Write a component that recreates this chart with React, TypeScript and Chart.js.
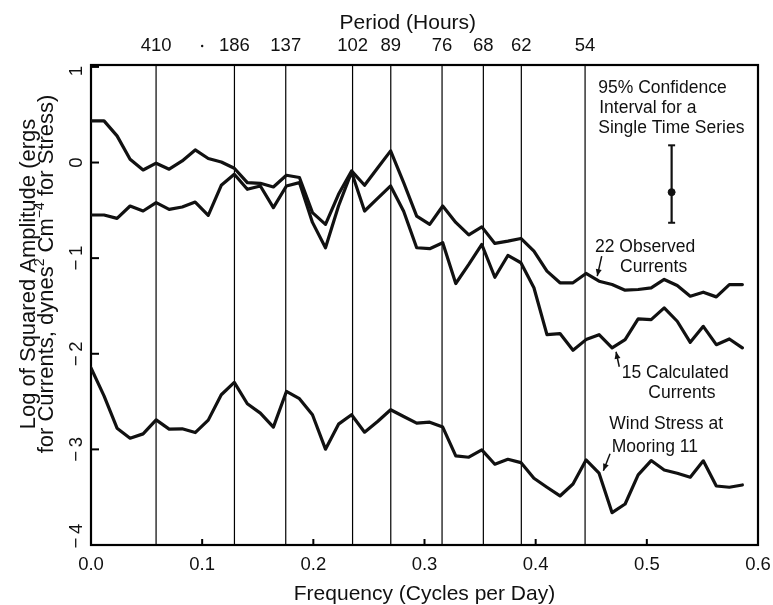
import React, { useEffect, useRef } from "react";
import { Chart, registerables } from "chart.js";

Chart.register(...registerables);

// Spectral bin spacing (cycles per day)
const FREQ_STEP = 3 / 256;

// Log of squared amplitude, one value per frequency bin
const observedCurrents = [
  0.436, 0.436, 0.279, 0.035, -0.078, -0.007, -0.07, 0.017, 0.132, 0.042,
  0.006, -0.06, -0.21, -0.217, -0.256, -0.133, -0.157, -0.524, -0.647, -0.332,
  -0.088, -0.238, -0.057, 0.122, -0.21, -0.56, -0.647, -0.455, -0.626, -0.757,
  -0.673, -0.846, -0.822, -0.794, -0.927, -1.136, -1.258, -1.258, -1.16, -1.241,
  -1.276, -1.335, -1.328, -1.31, -1.223, -1.286, -1.398, -1.356, -1.405, -1.276,
  -1.276,
];
const calculatedCurrents = [
  -0.549, -0.549, -0.584, -0.455, -0.507, -0.419, -0.49, -0.465, -0.413, -0.552,
  -0.238, -0.123, -0.28, -0.245, -0.472, -0.245, -0.21, -0.626, -0.891, -0.455,
  -0.1, -0.507, -0.374, -0.245, -0.51, -0.891, -0.901, -0.839, -1.265, -1.066,
  -0.857, -1.2, -0.972, -1.048, -1.31, -1.8, -1.789, -1.964, -1.852, -1.8,
  -1.939, -1.852, -1.635, -1.643, -1.52, -1.66, -1.88, -1.713, -1.905, -1.845,
  -1.939,
];
const windStress = [
  -2.149, -2.44, -2.778, -2.883, -2.838, -2.691, -2.788, -2.785, -2.824, -2.694,
  -2.429, -2.3, -2.523, -2.621, -2.767, -2.394, -2.47, -2.638, -2.998, -2.736,
  -2.638, -2.82, -2.709, -2.586, -2.656, -2.725, -2.715, -2.767, -3.068, -3.082,
  -3.005, -3.155, -3.103, -3.138, -3.302, -3.396, -3.487, -3.362, -3.11, -3.249,
  -3.662, -3.571, -3.267, -3.117, -3.215, -3.249, -3.291, -3.12, -3.383, -3.396,
  -3.372,
];

// Period marks (hours) on the top axis
const periodHours = [410, 186, 137, 102, 89, 76, 68, 62, 54];

const xTicks = [0, 0.1, 0.2, 0.3, 0.4, 0.5, 0.6];
const xTickLabels = ["0.0", "0.1", "0.2", "0.3", "0.4", "0.5", "0.6"];
const yTicks = [1, 0, -1, -2, -3, -4];
const yTickLabels = ["1", "0", "\u2212\u20091", "\u2212\u20092", "\u2212\u20093", "\u2212\u20094"];

// 95% confidence interval marker
const ciFreq = 0.5223;
const ciUpper = 0.18;
const ciMid = -0.31;
const ciLower = -0.63;

const FONT = "'Liberation Sans', Arial, Helvetica, sans-serif";

function drawArrow(ctx: CanvasRenderingContext2D, x1: number, y1: number, x2: number, y2: number) {
  ctx.save();
  ctx.lineWidth = 1.5;
  ctx.beginPath();
  ctx.moveTo(x1, y1);
  ctx.lineTo(x2, y2);
  ctx.stroke();
  const ang = Math.atan2(y2 - y1, x2 - x1);
  const L = 7;
  const W = 3;
  ctx.beginPath();
  ctx.moveTo(x2, y2);
  ctx.lineTo(x2 - L * Math.cos(ang) + W * Math.sin(ang), y2 - L * Math.sin(ang) - W * Math.cos(ang));
  ctx.lineTo(x2 - L * Math.cos(ang) - W * Math.sin(ang), y2 - L * Math.sin(ang) + W * Math.cos(ang));
  ctx.closePath();
  ctx.fill();
  ctx.restore();
}

type Part = { t: string; sup?: boolean };

function drawRich(ctx: CanvasRenderingContext2D, parts: Part[], cx: number, base: number, size: number) {
  const main = `${size}px ${FONT}`;
  const small = `${Math.round(size * 0.62)}px ${FONT}`;
  let total = 0;
  const widths = parts.map((p) => {
    ctx.font = p.sup ? small : main;
    const w = ctx.measureText(p.t).width;
    total += w;
    return w;
  });
  let x = cx - total / 2;
  ctx.textAlign = "left";
  parts.forEach((p, i) => {
    ctx.font = p.sup ? small : main;
    ctx.fillText(p.t, x, p.sup ? base - size * 0.42 : base);
    x += widths[i];
  });
}

const decorPlugin = {
  id: "decor",
  beforeDatasetsDraw(chart: any) {
    const { ctx, chartArea: a, scales } = chart;
    const x = scales.x;
    const y = scales.y;
    ctx.save();
    ctx.strokeStyle = "#000";
    ctx.lineWidth = 1.2;
    periodHours.forEach((p) => {
      const px = x.getPixelForValue(24 / p);
      ctx.beginPath();
      ctx.moveTo(px, a.top);
      ctx.lineTo(px, a.bottom);
      ctx.stroke();
    });
    ctx.lineWidth = 2.2;
    ctx.strokeRect(a.left, a.top, a.right - a.left, a.bottom - a.top);
    ctx.lineWidth = 2;
    yTicks.forEach((v) => {
      const py = y.getPixelForValue(v);
      ctx.beginPath();
      ctx.moveTo(a.left, py);
      ctx.lineTo(a.left + 8, py);
      ctx.stroke();
    });
    xTicks.forEach((v) => {
      const px = x.getPixelForValue(v);
      ctx.beginPath();
      ctx.moveTo(px, a.bottom);
      ctx.lineTo(px, a.bottom - 6);
      ctx.stroke();
    });
    ctx.restore();
  },
  afterDraw(chart: any) {
    const { ctx, chartArea: a, scales } = chart;
    const x = scales.x;
    const y = scales.y;
    const X = (v: number) => x.getPixelForValue(v);
    const Y = (v: number) => y.getPixelForValue(v);
    ctx.save();
    ctx.fillStyle = "#111";
    ctx.strokeStyle = "#111";
    ctx.textBaseline = "alphabetic";

    // bottom tick labels
    ctx.font = `18.5px ${FONT}`;
    ctx.textAlign = "center";
    xTicks.forEach((v, i) => ctx.fillText(xTickLabels[i], X(v), a.bottom + 25));

    // top period labels
    periodHours.forEach((p) => ctx.fillText(String(p), X(24 / p), a.top - 14));
    ctx.beginPath();
    ctx.arc(X(0.1), a.top - 19, 1.2, 0, Math.PI * 2);
    ctx.fill();

    // titles
    ctx.font = `21px ${FONT}`;
    ctx.fillText("Period (Hours)", X(0.285), a.top - 36);
    ctx.fillText("Frequency (Cycles per Day)", (a.left + a.right) / 2, a.bottom + 55);

    // rotated y tick labels
    ctx.font = `18.5px ${FONT}`;
    yTicks.forEach((v, i) => {
      let py = Y(v);
      py = Math.max(a.top + 6, Math.min(a.bottom - 9, py));
      ctx.save();
      ctx.translate(a.left - 9, py);
      ctx.rotate(-Math.PI / 2);
      ctx.textAlign = "center";
      ctx.fillText(yTickLabels[i], 0, 0);
      ctx.restore();
    });

    // rotated y title (two lines)
    const cy = 274;
    ctx.save();
    ctx.translate(35, cy);
    ctx.rotate(-Math.PI / 2);
    drawRich(ctx, [{ t: "Log of Squared Amplitude (ergs" }], 0, 0, 22);
    ctx.restore();
    ctx.save();
    ctx.translate(53, cy);
    ctx.rotate(-Math.PI / 2);
    drawRich(
      ctx,
      [
        { t: "for Currents, dynes" },
        { t: "2", sup: true },
        { t: " Cm" },
        { t: "\u22124", sup: true },
        { t: " for Stress)" },
      ],
      0,
      0,
      22
    );
    ctx.restore();

    // annotations
    ctx.font = `17.5px ${FONT}`;
    ctx.textAlign = "left";
    ctx.fillText("95% Confidence", X(0.4563), Y(0.724));
    ctx.fillText("Interval for a", X(0.4572), Y(0.515));
    ctx.fillText("Single Time Series", X(0.4563), Y(0.305));

    ctx.fillText("22 Observed", X(0.4534), Y(-0.933));
    ctx.fillText("Currents", X(0.4759), Y(-1.142));
    drawArrow(ctx, X(0.4594), Y(-0.978), X(0.4554), Y(-1.188));

    ctx.fillText("15 Calculated", X(0.4774), Y(-2.257));
    ctx.fillText("Currents", X(0.5013), Y(-2.466));
    drawArrow(ctx, X(0.4752), Y(-2.136), X(0.4723), Y(-1.979));

    ctx.fillText("Wind Stress at", X(0.4662), Y(-2.791));
    ctx.fillText("Mooring 11", X(0.4684), Y(-3.025));
    drawArrow(ctx, X(0.4669), Y(-3.045), X(0.4609), Y(-3.224));

    ctx.restore();
  },
};

export default function App() {
  const ref = useRef<HTMLCanvasElement | null>(null);
  useEffect(() => {
    if (!ref.current) return;
    const pts = (arr: number[]) => arr.map((v, i) => ({ x: i * FREQ_STEP, y: v }));
    const lineStyle = {
      borderColor: "#111",
      borderWidth: 3.2,
      pointRadius: 0,
      tension: 0,
      fill: false,
      borderJoinStyle: "round" as const,
      borderCapStyle: "round" as const,
    };
    const chart = new Chart(ref.current, {
      type: "line",
      data: {
        datasets: [
          { label: "22 Observed Currents", data: pts(observedCurrents), ...lineStyle },
          { label: "15 Calculated Currents", data: pts(calculatedCurrents), ...lineStyle },
          { label: "Wind Stress at Mooring 11", data: pts(windStress), ...lineStyle },
          {
            label: "95% CI",
            data: [
              { x: ciFreq, y: ciUpper },
              { x: ciFreq, y: ciLower },
            ],
            borderColor: "#111",
            borderWidth: 2.2,
            pointStyle: "line",
            pointRadius: 3.5,
            pointBorderWidth: 2,
            pointBorderColor: "#111",
            tension: 0,
          },
          {
            label: "CI centre",
            data: [{ x: ciFreq, y: ciMid }],
            showLine: false,
            pointRadius: 3.5,
            pointBackgroundColor: "#111",
            pointBorderColor: "#111",
            pointBorderWidth: 1,
          },
        ],
      },
      options: {
        animation: false,
        responsive: false,
        maintainAspectRatio: false,
        layout: { padding: { left: 91, right: 15, top: 65, bottom: 60 } },
        plugins: { legend: { display: false }, tooltip: { enabled: false } },
        scales: {
          x: { type: "linear", min: 0, max: 0.6, display: false },
          y: { type: "linear", min: -4, max: 1.02, display: false },
        },
      },
      plugins: [decorPlugin],
    });
    return () => chart.destroy();
  }, []);
  return (
    <div style={{ position: "absolute", left: 0, top: 0, width: 773, height: 605, background: "#fff" }}>
      <canvas ref={ref} width={773} height={605} />
    </div>
  );
}
